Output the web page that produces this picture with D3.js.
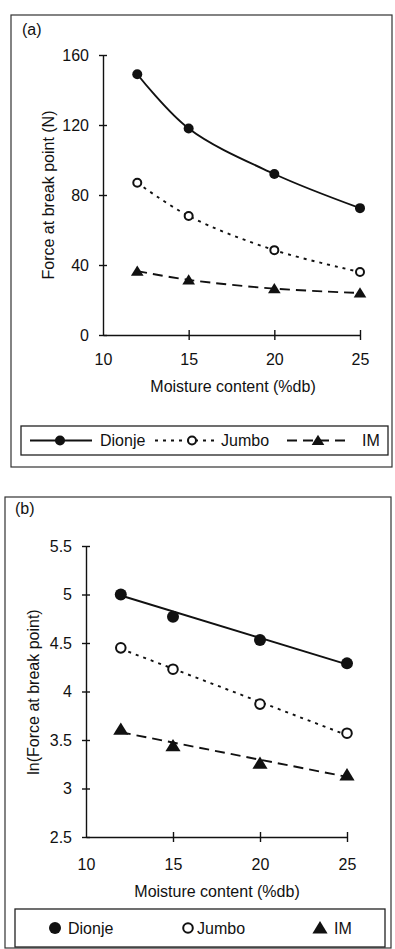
<!DOCTYPE html>
<html>
<head>
<meta charset="utf-8">
<script src="https://cdn.jsdelivr.net/npm/d3@7"></script>
<style>
  html, body { margin: 0; padding: 0; background: #fff; }
  svg { display: block; }
  text { font-family: "Liberation Sans", Arial, Helvetica, sans-serif; fill: #111; }
</style>
</head>
<body>
<svg id="chart" width="395" height="949"></svg>
<script>
// Moisture content levels (%db)
const MOISTURE = [12, 15, 20, 25];
const SERIES = ["Dionje", "Jumbo", "IM"];

// (a) force at break point (N)
const forceDionje = [149, 118, 92, 72.5];
const forceJumbo = [87, 68, 48.5, 36];
const forceIM = [36.5, 31.5, 26.5, 24];

// (b) ln(force at break point)
const lnDionje = [5.0, 4.77, 4.53, 4.29];
const lnJumbo = [4.45, 4.23, 3.87, 3.57];
const lnIM = [3.61, 3.44, 3.26, 3.14];
// fitted straight lines in (b), value at 12 and at 25
const FIT_X = [12, 25];
const fitDionje = [4.99, 4.28];
const fitJumbo = [4.44, 3.55];
const fitIM = [3.58, 3.12];

// axis ticks
const X_TICKS = [10, 15, 20, 25];
const FORCE_TICKS = [0, 40, 80, 120, 160];
const LN_TICKS = [2.5, 3, 3.5, 4, 4.5, 5, 5.5];

const INK = "#111";
const svg = d3.select("#chart");

const STYLES = {
  Dionje: { dash: null, marker: "dot" },
  Jumbo: { dash: "3,5", marker: "ring" },
  IM: { dash: "10,6", marker: "tri" }
};

/**
 * Draws one marker shape at (x, y)
 */
function drawMarker(g, kind, x, y, size) {
  if (kind === "dot") {
    g.append("circle").attr("cx", x).attr("cy", y).attr("r", size)
      .attr("fill", INK);
  } else if (kind === "ring") {
    g.append("circle").attr("cx", x).attr("cy", y).attr("r", size * 0.8)
      .attr("fill", "#fff").attr("stroke", INK).attr("stroke-width", 2);
  } else {
    const s = size * 1.15;
    g.append("path")
      .attr("d", `M${x},${y - s}L${x + s * 1.1},${y + s * 0.8}L${x - s * 1.1},${y + s * 0.8}Z`)
      .attr("fill", INK);
  }
}

/**
 * Draws a panel: frame, axes, titles, series and legend
 */
function drawPanel(p) {
  const g = svg.append("g");

  // Frame
  g.append("rect")
    .attr("x", p.box[0]).attr("y", p.box[1])
    .attr("width", p.box[2]).attr("height", p.box[3])
    .attr("fill", "none").attr("stroke", "#333").attr("stroke-width", 1.2);

  g.append("text").attr("x", p.tag[0]).attr("y", p.tag[1])
    .style("font-size", "16px").text(p.tagText);

  const x = d3.scaleLinear().domain([10, 25]).range(p.xRange);
  const y = d3.scaleLinear().domain(p.yDomain).range(p.yRange);

  // Y axis
  const gy = g.append("g")
    .attr("transform", `translate(${p.xRange[0]},0)`)
    .call(d3.axisLeft(y).tickValues(p.yTicks).tickSize(4).tickSizeOuter(0)
      .tickPadding(10).tickFormat(d => String(d)));
  gy.selectAll(".tick line").attr("x1", 4);
  gy.selectAll(".tick text").style("font-size", "16px").attr("fill", INK);
  gy.selectAll("line, path").attr("stroke", INK).attr("stroke-width", 1.4);

  // X axis
  const gx = g.append("g")
    .attr("transform", `translate(0,${p.yRange[0]})`)
    .call(d3.axisBottom(x).tickValues(X_TICKS).tickSize(5).tickSizeOuter(0)
      .tickPadding(p.xPad));
  gx.selectAll(".tick line").attr("y1", -5).filter(d => d === 10).remove();
  gx.selectAll(".tick text").style("font-size", "16px").attr("fill", INK);
  gx.selectAll("line, path").attr("stroke", INK).attr("stroke-width", 1.4);

  // Axis titles
  g.append("text").attr("x", p.xTitle[0]).attr("y", p.xTitle[1])
    .attr("text-anchor", "middle").style("font-size", "16px")
    .text("Moisture content (%db)");
  g.append("text")
    .attr("transform", `translate(${p.yTitle[0]},${p.yTitle[1]}) rotate(-90)`)
    .attr("text-anchor", "middle").attr("dominant-baseline", "middle")
    .style("font-size", "16px").text(p.yTitleText);

  // Lines
  p.lines.forEach(ln => {
    const st = STYLES[ln.name];
    const pts = ln.xs.map((v, i) => [x(v), y(ln.ys[i])]);
    g.append("path")
      .attr("d", d3.line().curve(p.curve)(pts))
      .attr("fill", "none").attr("stroke", INK).attr("stroke-width", 1.9)
      .attr("stroke-dasharray", st.dash);
  });

  // Markers
  p.points.forEach(s => {
    const st = STYLES[s.name];
    MOISTURE.forEach((m, i) => drawMarker(g, st.marker, x(m), y(s.values[i]), p.markerSize));
  });

  // Legend
  const lg = p.legend;
  g.append("rect")
    .attr("x", lg.box[0]).attr("y", lg.box[1])
    .attr("width", lg.box[2]).attr("height", lg.box[3])
    .attr("fill", "#fff").attr("stroke", "#222").attr("stroke-width", 1.3);
  const cy = lg.box[1] + lg.box[3] / 2;
  lg.items.forEach(it => {
    const st = STYLES[it.name];
    if (it.line) {
      g.append("line").attr("x1", it.line[0]).attr("x2", it.line[1])
        .attr("y1", cy).attr("y2", cy)
        .attr("stroke", INK).attr("stroke-width", 1.9)
        .attr("stroke-dasharray", st.dash);
    }
    drawMarker(g, st.marker, it.marker, cy, p.markerSize);
    g.append("text").attr("x", it.text).attr("y", cy)
      .attr("dominant-baseline", "central").style("font-size", "16px")
      .text(it.name);
  });
}

// (a)
drawPanel({
  box: [11, 15, 381, 452],
  tag: [22, 35], tagText: "(a)",
  xRange: [103, 360], yDomain: [0, 160], yRange: [335, 55],
  yTicks: FORCE_TICKS, xPad: 14,
  xTitle: [233, 392],
  yTitle: [50, 195], yTitleText: "Force at break point (N)",
  curve: d3.curveCatmullRom,
  markerSize: 5,
  lines: [
    { name: SERIES[0], xs: MOISTURE, ys: forceDionje },
    { name: SERIES[1], xs: MOISTURE, ys: forceJumbo },
    { name: SERIES[2], xs: MOISTURE, ys: forceIM }
  ],
  points: [
    { name: SERIES[0], values: forceDionje },
    { name: SERIES[1], values: forceJumbo },
    { name: SERIES[2], values: forceIM }
  ],
  legend: {
    box: [21, 426, 367, 29],
    items: [
      { name: SERIES[0], line: [30, 92], marker: 60, text: 100 },
      { name: SERIES[1], line: [155, 218], marker: 192, text: 221 },
      { name: SERIES[2], line: [287, 350], marker: 318, text: 362 }
    ]
  }
});

// (b)
drawPanel({
  box: [5, 497, 386, 451],
  tag: [15, 514], tagText: "(b)",
  xRange: [86, 347], yDomain: [2.5, 5.5], yRange: [837, 546],
  yTicks: LN_TICKS, xPad: 17,
  xTitle: [217, 897],
  yTitle: [35, 692], yTitleText: "ln(Force at break point)",
  curve: d3.curveLinear,
  markerSize: 6,
  lines: [
    { name: SERIES[0], xs: FIT_X, ys: fitDionje },
    { name: SERIES[1], xs: FIT_X, ys: fitJumbo },
    { name: SERIES[2], xs: FIT_X, ys: fitIM }
  ],
  points: [
    { name: SERIES[0], values: lnDionje },
    { name: SERIES[1], values: lnJumbo },
    { name: SERIES[2], values: lnIM }
  ],
  legend: {
    box: [15, 909, 370, 38],
    items: [
      { name: SERIES[0], marker: 55, text: 68 },
      { name: SERIES[1], marker: 188, text: 197 },
      { name: SERIES[2], marker: 320, text: 334 }
    ]
  }
});
</script>
</body>
</html>
